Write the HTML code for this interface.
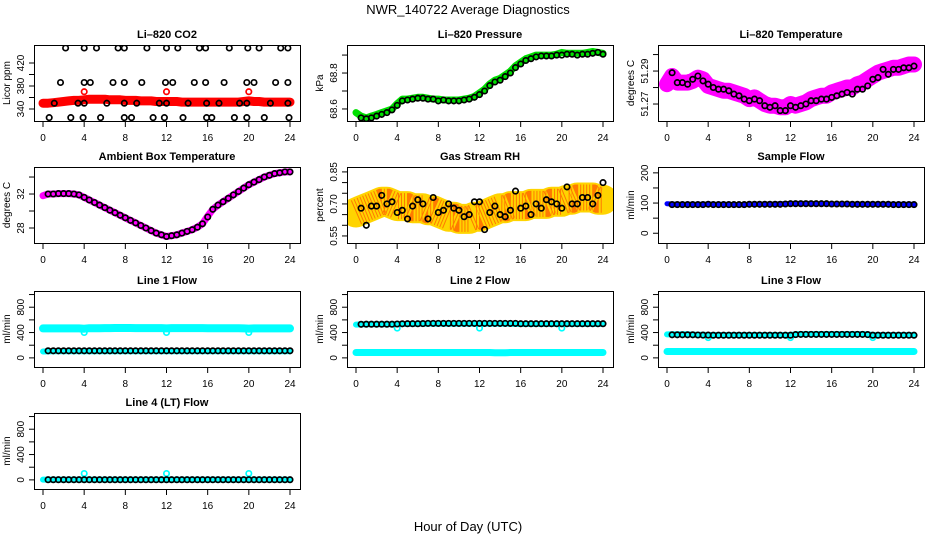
<!DOCTYPE html>
<html><head><meta charset="utf-8"><style>
html,body{margin:0;padding:0;background:#fff;}
svg{display:block;font-family:"Liberation Sans",sans-serif;}
</style></head><body>
<svg id="chart" width="936" height="540" viewBox="0 0 936 540" xmlns="http://www.w3.org/2000/svg">
<rect width="936" height="540" fill="#fff"/>
<text x="468" y="14" font-size="13" text-anchor="middle">NWR_140722  Average Diagnostics</text>
<text x="468" y="531" font-size="13" text-anchor="middle">Hour of Day (UTC)</text>
</svg>
<script>
const hours=[0,0.5,1,1.5,2,2.5,3,3.5,4,4.5,5,5.5,6,6.5,7,7.5,8,8.5,9,9.5,10,10.5,11,11.5,12,12.5,13,13.5,14,14.5,15,15.5,16,16.5,17,17.5,18,18.5,19,19.5,20,20.5,21,21.5,22,22.5,23,23.5,24];
const hoursB=[0.5,1,1.5,2,2.5,3,3.5,4,4.5,5,5.5,6,6.5,7,7.5,8,8.5,9,9.5,10,10.5,11,11.5,12,12.5,13,13.5,14,14.5,15,15.5,16,16.5,17,17.5,18,18.5,19,19.5,20,20.5,21,21.5,22,22.5,23,23.5,24];
const xTicks=[0,4,8,12,16,20,24];
const outHours=[4,12,20];

// CO2
const co2Red=[350,350,351,352,353,354,355,355,356,357,357,357,357,356,356,356,355,355,355,354,354,354,353,353,353,353,353,352,352,352,352,352,352,352,352,352,352,352,352,353,354,353,353,352,352,352,352,352,352];
const co2RedOut=[370,370,370];
const co2BlackX=[2.2,4.0,5.2,7.3,7.9,10.1,12,13.1,15.2,15.8,18.1,19.9,21,23.1,23.8, 1.7,4,4.6,6.8,7.9,9.6,11.9,12.6,14.7,15.8,17.6,19.8,20.5,22.6,23.8, 1.1,3.4,4,6.2,7.9,9.1,11.3,12,14.1,15.9,17.1,19.1,19.8,22.1,23.8, 0.6,2.7,3.9,5.6,7.9,8.6,10.7,11.8,13.6,15.9,16.4,18.6,19.8,21.5,23.9];
const co2BlackY=[446,446,446,446,446,446,446,446,446,446,446,446,446,446,446, 386,386,386,386,386,386,386,386,386,386,386,386,386,386,386, 350,350,350,350,350,350,350,350,350,350,350,350,350,350,350, 325,325,325,325,325,325,325,325,325,325,325,325,325,325,325];

// Pressure
const pressGreen=[68.58,68.56,68.55,68.56,68.57,68.58,68.59,68.60,68.63,68.655,68.655,68.66,68.665,68.665,68.66,68.655,68.655,68.65,68.65,68.65,68.65,68.655,68.66,68.67,68.69,68.71,68.74,68.76,68.77,68.79,68.81,68.84,68.86,68.88,68.89,68.90,68.90,68.90,68.90,68.905,68.915,68.91,68.91,68.91,68.91,68.915,68.92,68.915,68.91];
const pressBlack=[68.55,68.545,68.55,68.56,68.57,68.58,68.595,68.62,68.645,68.65,68.655,68.66,68.66,68.655,68.655,68.645,68.65,68.645,68.645,68.645,68.65,68.655,68.665,68.68,68.70,68.73,68.75,68.76,68.78,68.80,68.83,68.85,68.87,68.88,68.89,68.895,68.895,68.895,68.90,68.90,68.905,68.905,68.90,68.905,68.905,68.91,68.915,68.905];

// Li-820 temperature
const tempMag=[51.282,51.287,51.283,51.283,51.283,51.284,51.286,51.285,51.281,51.280,51.279,51.278,51.278,51.277,51.276,51.275,51.273,51.274,51.272,51.270,51.269,51.269,51.268,51.268,51.270,51.269,51.270,51.271,51.273,51.274,51.275,51.275,51.277,51.278,51.279,51.280,51.280,51.282,51.283,51.285,51.287,51.289,51.290,51.291,51.292,51.292,51.293,51.294,51.294];
const tempBlack=[51.289,51.283,51.283,51.282,51.285,51.287,51.284,51.282,51.280,51.279,51.279,51.278,51.276,51.275,51.273,51.272,51.273,51.272,51.269,51.268,51.269,51.266,51.266,51.269,51.268,51.269,51.270,51.272,51.272,51.273,51.273,51.274,51.275,51.276,51.277,51.276,51.279,51.279,51.281,51.285,51.286,51.291,51.288,51.291,51.291,51.292,51.292,51.293];

// Ambient box temperature
const ambMag=[31.8,32.0,32.0,32.05,32.05,32.05,32.0,31.9,31.6,31.3,31.0,30.7,30.4,30.1,29.8,29.5,29.2,28.9,28.6,28.3,28.0,27.7,27.4,27.2,27.0,27.1,27.2,27.4,27.6,27.8,28.1,28.5,29.4,30.2,30.7,31.1,31.5,31.9,32.3,32.7,33.1,33.4,33.7,34.0,34.2,34.4,34.5,34.6,34.6];
const ambBlack=[32.0,32.0,32.05,32.05,32.05,32.0,31.9,31.6,31.3,31.0,30.7,30.4,30.1,29.8,29.5,29.2,28.9,28.6,28.3,28.0,27.7,27.4,27.2,27.0,27.1,27.2,27.4,27.6,27.8,28.1,28.5,29.3,30.2,30.7,31.1,31.5,31.9,32.3,32.7,33.1,33.4,33.7,34.0,34.2,34.4,34.5,34.6,34.6];

// Gas stream RH
const rhBand=[0.66,0.67,0.68,0.69,0.70,0.71,0.71,0.70,0.69,0.69,0.69,0.68,0.68,0.68,0.67,0.67,0.66,0.65,0.64,0.64,0.63,0.63,0.63,0.64,0.64,0.65,0.66,0.67,0.68,0.68,0.69,0.69,0.69,0.69,0.70,0.70,0.70,0.70,0.71,0.71,0.71,0.72,0.72,0.73,0.73,0.73,0.73,0.72,0.72];
const rhBlack=[0.68,0.60,0.69,0.69,0.74,0.70,0.71,0.66,0.67,0.63,0.69,0.72,0.70,0.63,0.73,0.66,0.67,0.70,0.68,0.67,0.64,0.65,0.71,0.71,0.58,0.66,0.69,0.65,0.64,0.67,0.76,0.68,0.69,0.65,0.70,0.68,0.72,0.71,0.70,0.68,0.78,0.70,0.70,0.73,0.73,0.70,0.74,0.80];

// Sample flow
const sampleBlue=[98,97,96,96,96,96,96,96,97,96,96,96,96,95,95,95,96,97,97,97,97,97,98,98,99,99,99,99,99,98,98,98,97,97,97,97,97,96,96,96,97,96,96,96,96,96,96,96,96];
const sampleBlack=[95,95,95,95,95,95,95,96,95,95,95,95,95,95,95,96,96,96,96,96,96,96,97,98,98,98,98,98,98,98,98,97,97,97,97,96,96,96,96,96,96,96,96,95,95,95,95,95];

// Line 1 flow
const l1CyanHi=[465,465,465,465,465,465,465,465,460,468,468,468,470,470,472,472,472,472,470,470,470,470,470,470,466,470,470,470,470,470,470,470,468,468,468,468,468,468,468,466,462,466,466,466,466,466,466,466,466];
const l1CyanLo=[100,102,104,105,105,105,105,105,105,105,105,105,105,105,105,105,105,105,105,105,105,105,105,105,105,105,105,105,105,105,105,105,105,105,105,105,105,105,105,105,105,105,105,105,105,105,105,105,105];
const l1Black=[112,112,112,112,112,112,112,112,112,112,112,112,112,112,112,112,112,112,112,112,112,112,112,112,112,112,112,112,112,112,112,112,112,112,112,112,112,112,112,112,112,112,112,112,112,112,112,112];
const l1Out=[400,400,400];

// Line 2 flow
const l2CyanHi=[525,528,530,532,532,532,532,532,530,535,535,535,538,540,540,540,540,540,540,540,540,540,540,540,540,540,540,540,540,540,538,535,535,535,535,535,535,535,535,535,532,535,535,535,535,535,535,535,535];
const l2CyanLo=[85,85,85,85,85,85,85,85,85,85,85,85,85,85,85,85,85,85,85,85,85,85,85,85,85,85,85,80,80,80,85,85,85,85,85,85,85,85,85,85,85,85,85,85,85,85,85,85,85];
const l2Black=[530,532,532,532,532,532,532,535,538,540,540,540,542,545,545,545,545,545,545,545,545,545,545,545,545,545,545,545,545,545,545,540,540,540,540,540,540,540,540,540,540,540,540,540,540,540,540,540];
const l2Out=[470,470,470];

// Line 3 flow
const l3CyanHi=[370,372,372,372,372,368,365,365,362,362,362,362,362,362,362,362,362,362,362,362,362,362,362,362,362,372,375,375,375,375,375,375,375,375,375,375,375,375,375,372,362,362,362,362,362,362,362,362,362];
const l3CyanLo=[100,100,100,100,100,100,100,100,100,100,100,100,100,100,100,100,100,100,100,100,100,100,100,100,100,100,100,100,100,100,100,100,100,100,100,100,100,100,100,100,100,100,100,100,100,100,100,100,100];
const l3Black=[365,365,365,365,365,362,360,360,358,358,358,358,358,358,358,358,358,358,358,358,358,358,358,358,368,370,370,370,370,370,370,370,370,370,370,370,370,370,368,358,358,358,358,358,358,358,358,358];
const l3Out=[320,320,320];

// Line 4 flow
const l4Cyan=[5,5,5,5,5,5,5,5,5,5,5,5,5,5,5,5,5,5,5,5,5,5,5,5,5,5,5,5,5,5,5,5,5,5,5,5,5,5,5,5,5,5,5,5,5,5,5,5,5];
const l4Black=[3,3,3,3,3,3,3,3,3,3,3,3,3,3,3,3,3,3,3,3,3,3,3,3,3,3,3,3,3,3,3,3,3,3,3,3,3,3,3,3,3,3,3,3,3,3,3,3];
const l4Out=[100,100,100];

const NS="http://www.w3.org/2000/svg";
const svg=document.getElementById('chart');
const colLeft=[34,347,658], rowTop=[45,167,291,413], BW=266, BH=76;
function mk(tag,attrs,parent){const e=document.createElementNS(NS,tag);for(const k in attrs)e.setAttribute(k,attrs[k]);(parent||svg).appendChild(e);return e;}

const flowTicks=[0,200,400,600,800,1000], flowLabels=[0,400,800];
const panels=[
 {name:'co2',title:'Li\u2013820 CO2',ylab:'Licor ppm',c:0,r:0,ymin:319.1,ymax:451.3,ticks:[340,360,380,400,420],labels:[340,380,420],fmt:v=>String(v),
  series:[{k:'band',col:'#ff0000',x:hours,y:co2Red,w:9},{k:'pts',col:'#ff0000',x:outHours,y:co2RedOut},{k:'pts',col:'#000',x:co2BlackX,y:co2BlackY}]},
 {name:'pressure',title:'Li\u2013820 Pressure',ylab:'kPa',c:1,r:0,ymin:68.533,ymax:68.956,ticks:[68.6,68.7,68.8,68.9],labels:[68.6,68.8],fmt:v=>v.toFixed(1),
  series:[{k:'band',col:'#00e000',x:hours,y:pressGreen,w:7},{k:'pts',col:'#000',x:hoursB,y:pressBlack}]},
 {name:'li820-temp',title:'Li\u2013820 Temperature',ylab:'degrees C',c:2,r:0,ymin:51.2597,ymax:51.3058,ticks:[51.27,51.28,51.29,51.30],labels:[51.27,51.29],fmt:v=>v.toFixed(2),
  series:[{k:'band',col:'#ff00ff',x:hours,y:tempMag,w:16},{k:'pts',col:'#000',x:hoursB,y:tempBlack}]},
 {name:'ambient-temp',title:'Ambient Box Temperature',ylab:'degrees C',c:0,r:1,ymin:26.235,ymax:35.18,ticks:[28,30,32,34],labels:[28,32],fmt:v=>String(v),
  series:[{k:'band',col:'#ff00ff',x:hours,y:ambMag,w:7},{k:'pts',col:'#000',x:hoursB,y:ambBlack}]},
 {name:'rh',title:'Gas Stream RH',ylab:'percent',c:1,r:1,ymin:0.517,ymax:0.873,ticks:[0.55,0.6,0.65,0.7,0.75,0.8,0.85],labels:[0.55,0.7,0.85],fmt:v=>v.toFixed(2),
  series:[{k:'rh',x:hours,y:rhBand},{k:'pts',col:'#000',x:hoursB,y:rhBlack}]},
 {name:'sample-flow',title:'Sample Flow',ylab:'ml/min',c:2,r:1,ymin:-32.3,ymax:219.4,ticks:[0,50,100,150,200],labels:[0,100,200],fmt:v=>String(v),
  series:[{k:'band',col:'#0000ff',x:hours,y:sampleBlue,w:5},{k:'pts',col:'#000',x:hoursB,y:sampleBlack}]},
 {name:'line1-flow',title:'Line 1 Flow',ylab:'ml/min',c:0,r:2,ymin:-144,ymax:1056,ticks:flowTicks,labels:flowLabels,fmt:v=>String(v),
  series:[{k:'band',col:'#00ffff',x:hours,y:l1CyanHi,w:8},{k:'band',col:'#00ffff',x:hours,y:l1CyanLo,w:6},{k:'pts',col:'#00ffff',x:outHours,y:l1Out},{k:'pts',col:'#000',x:hoursB,y:l1Black}]},
 {name:'line2-flow',title:'Line 2 Flow',ylab:'ml/min',c:1,r:2,ymin:-144,ymax:1056,ticks:flowTicks,labels:flowLabels,fmt:v=>String(v),
  series:[{k:'band',col:'#00ffff',x:hours,y:l2CyanHi,w:6},{k:'band',col:'#00ffff',x:hours,y:l2CyanLo,w:7},{k:'pts',col:'#00ffff',x:outHours,y:l2Out},{k:'pts',col:'#000',x:hoursB,y:l2Black}]},
 {name:'line3-flow',title:'Line 3 Flow',ylab:'ml/min',c:2,r:2,ymin:-144,ymax:1056,ticks:flowTicks,labels:flowLabels,fmt:v=>String(v),
  series:[{k:'band',col:'#00ffff',x:hours,y:l3CyanHi,w:6},{k:'band',col:'#00ffff',x:hours,y:l3CyanLo,w:7},{k:'pts',col:'#00ffff',x:outHours,y:l3Out},{k:'pts',col:'#000',x:hoursB,y:l3Black}]},
 {name:'line4-flow',title:'Line 4 (LT) Flow',ylab:'ml/min',c:0,r:3,ymin:-144,ymax:1056,ticks:flowTicks,labels:flowLabels,fmt:v=>String(v),
  series:[{k:'band',col:'#00ffff',x:hours,y:l4Cyan,w:6},{k:'pts',col:'#00ffff',x:outHours,y:l4Out},{k:'pts',col:'#000',x:hoursB,y:l4Black}]}
];

panels.forEach(p=>{
  const L=colLeft[p.c], T=rowTop[p.r];
  const xs=h=>L+9+h*(247/24);
  const ys=v=>T+BH-(v-p.ymin)/(p.ymax-p.ymin)*BH;
  const g=mk('g',{});
  
  
  const clipId='clip-'+p.name;
  const cp=mk('clipPath',{id:clipId},g);
  mk('rect',{x:L,y:T,width:BW,height:BH},cp);
  const plot=mk('g',{'clip-path':'url(#'+clipId+')'},g);
  
  
  p.series.forEach((s,si)=>{
    if(s.k==='band'||s.k==='rh'){
      const pts=s.x.map((h,i)=>xs(h).toFixed(1)+','+ys(s.y[i]).toFixed(1)).join(' ');
      if(s.k==='rh'){
        const b=mk('polyline',{points:pts,fill:'none',stroke:'#ffd400','stroke-width':30,'stroke-linejoin':'round','stroke-linecap':'round'},plot);
        
        
        const b2=mk('polyline',{points:pts,fill:'none',stroke:'#ff2000','stroke-width':26,'stroke-dasharray':'1 2','stroke-opacity':0.5},plot);
        
        
      } else {
        const b=mk('polyline',{points:pts,fill:'none',stroke:s.col,'stroke-width':s.w,'stroke-linejoin':'round','stroke-linecap':'round'},plot);
        
        
      }
    } else {
      s.x.forEach((h,i)=>{
        const c=mk('circle',{cx:xs(h).toFixed(1),cy:ys(s.y[i]).toFixed(1),r:2.7,fill:'none',stroke:s.col,'stroke-width':1.7},plot);
        
        
      });
    }
  });
  const box=mk('rect',{x:L+0.5,y:T+0.5,width:BW,height:BH,fill:'none',stroke:'#000','stroke-width':1},g);
  
  
  const tt=mk('text',{x:L+BW/2,y:T-7,'font-size':11,'font-weight':'bold','text-anchor':'middle'},g);
  tt.textContent=p.title;
  
  
  xTicks.forEach(h=>{
    const x=xs(h);
    mk('line',{x1:x,x2:x,y1:T+BH,y2:T+BH+6,stroke:'#000'},g);
    const t=mk('text',{x:x,y:T+BH+20,'font-size':10,'text-anchor':'middle'},g);
    t.textContent=h;
    
    
  });
  p.ticks.forEach(v=>{
    const y=ys(v);
    mk('line',{x1:L-5,x2:L,y1:y,y2:y,stroke:'#000'},g);
  });
  p.labels.forEach(v=>{
    const y=ys(v), x=L-10;
    const t=mk('text',{x:x,y:y,'font-size':10,'text-anchor':'middle',transform:'rotate(-90 '+x+' '+y+')'},g);
    t.textContent=p.fmt(v);
    
    
  });
  const yx=L-24, yy=T+BH/2;
  const yl=mk('text',{x:yx,y:yy,'font-size':10,'text-anchor':'middle',transform:'rotate(-90 '+yx+' '+yy+')'},g);
  yl.textContent=p.ylab;
  
  
});
</script>
</body></html>
